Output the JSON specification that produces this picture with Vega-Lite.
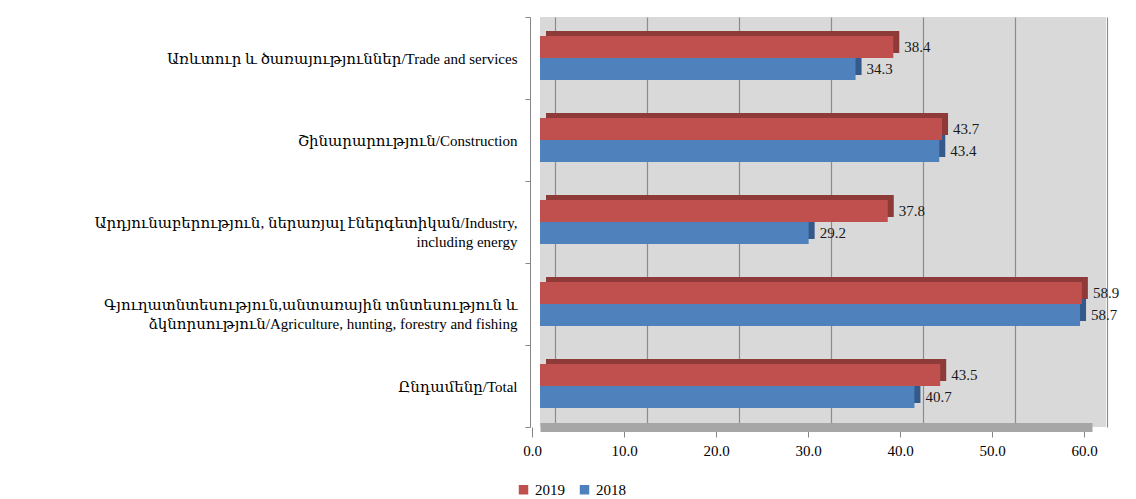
{
  "$schema": "https://vega.github.io/schema/vega-lite/v6.json",
  "width": 566,
  "height": 410,
  "autosize": {"type": "none"},
  "padding": {"left": 540, "top": 17, "right": 30, "bottom": 72},
  "background": "white",
  "config": {
    "font": "Liberation Serif, DejaVu Serif",
    "view": {"fill": "#d9d9d9", "stroke": null}
  },
  "data": {
    "values": [
      {"category": "Առևտուր և ծառայություններ/Trade and services", "year": "2019", "value": 38.4},
      {"category": "Առևտուր և ծառայություններ/Trade and services", "year": "2018", "value": 34.3},
      {"category": "Շինարարություն/Construction", "year": "2019", "value": 43.7},
      {"category": "Շինարարություն/Construction", "year": "2018", "value": 43.4},
      {"category": "Արդյունաբերություն,  ներառյալ էներգետիկան/Industry,|including energy", "year": "2019", "value": 37.8},
      {"category": "Արդյունաբերություն,  ներառյալ էներգետիկան/Industry,|including energy", "year": "2018", "value": 29.2},
      {"category": "Գյուղատնտեսություն,անտառային տնտեսություն և|ձկնորսություն/Agriculture, hunting, forestry and fishing", "year": "2019", "value": 58.9},
      {"category": "Գյուղատնտեսություն,անտառային տնտեսություն և|ձկնորսություն/Agriculture, hunting, forestry and fishing", "year": "2018", "value": 58.7},
      {"category": "Ընդամենը/Total", "year": "2019", "value": 43.5},
      {"category": "Ընդամենը/Total", "year": "2018", "value": 40.7}
    ]
  },
  "encoding": {
    "y": {
      "field": "category",
      "type": "nominal",
      "sort": null,
      "scale": {"paddingInner": 0, "paddingOuter": 0},
      "axis": {
        "title": null,
        "labelExpr": "datum.value ? split(datum.value, '|') : ''",
        "labelFontSize": 15,
        "labelColor": "#000000",
        "labelLimit": 600,
        "labelPadding": 8,
        "labelLineHeight": 19,
        "tickBand": "extent",
        "tickSize": 5,
        "tickColor": "#868686",
        "domainColor": "#868686",
        "offset": 10,
        "grid": false
      }
    },
    "x": {
      "field": "value",
      "type": "quantitative",
      "scale": {"domain": [0, 60], "nice": false, "range": [0, 552]}
    }
  },
  "layer": [
    {
      "mark": {"type": "bar", "xOffset": 6},
      "encoding": {
        "x": {
          "field": "value",
          "type": "quantitative",
          "axis": {
            "title": null,
            "orient": "top",
            "values": [0, 10, 20, 30, 40, 50, 60],
            "labels": false,
            "ticks": false,
            "domain": false,
            "grid": true,
            "gridColor": "#8c8c8c",
            "gridWidth": 1.2,
            "tickOffset": 15
          }
        },
        "yOffset": {
          "field": "year",
          "type": "nominal",
          "sort": ["2019", "2018"],
          "scale": {"paddingInner": 0, "paddingOuter": 0.86, "range": [-5, 77]}
        },
        "color": {
          "field": "year",
          "type": "nominal",
          "scale": {"domain": ["2019", "2018"], "range": ["#8e3a38", "#35598a"]},
          "legend": null
        }
      }
    },
    {
      "layer": [
        {
          "mark": {"type": "bar"},
          "encoding": {
            "x": {
              "field": "value",
              "type": "quantitative",
              "axis": {
                "title": null,
                "orient": "bottom",
                "values": [0, 10, 20, 30, 40, 50, 60],
                "format": ".1f",
                "labelFontSize": 15,
                "labelColor": "#000000",
                "labelPadding": 6,
                "labelFlush": false,
                "tickOffset": -8,
                "tickSize": 10,
                "tickColor": "#868686",
                "domainColor": "#a6a6a6",
                "domainWidth": 9,
                "grid": false
              }
            },
            "color": {
              "field": "year",
              "type": "nominal",
              "scale": {"domain": ["2019", "2018"], "range": ["#c0504d", "#4f81bd"]},
              "legend": {
                "title": null,
                "orient": "none",
                "legendX": -24,
                "legendY": 465,
                "direction": "horizontal",
                "symbolType": "square",
                "symbolSize": 90,
                "labelFontSize": 15,
                "labelColor": "#000000",
                "columnPadding": 12
              }
            }
          }
        },
        {
          "mark": {"type": "text", "align": "left", "baseline": "middle", "dx": 11, "fontSize": 15, "color": "#1a1a1a"},
          "encoding": {
            "text": {"field": "value", "type": "quantitative", "format": ".1f"}
          }
        }
      ],
      "encoding": {
        "yOffset": {
          "field": "year",
          "type": "nominal",
          "sort": ["2019", "2018"],
          "scale": {"paddingInner": 0, "paddingOuter": 0.86}
        }
      }
    }
  ],
  "resolve": {"scale": {"color": "independent", "yOffset": "independent"}, "axis": {"x": "independent"}}
}
